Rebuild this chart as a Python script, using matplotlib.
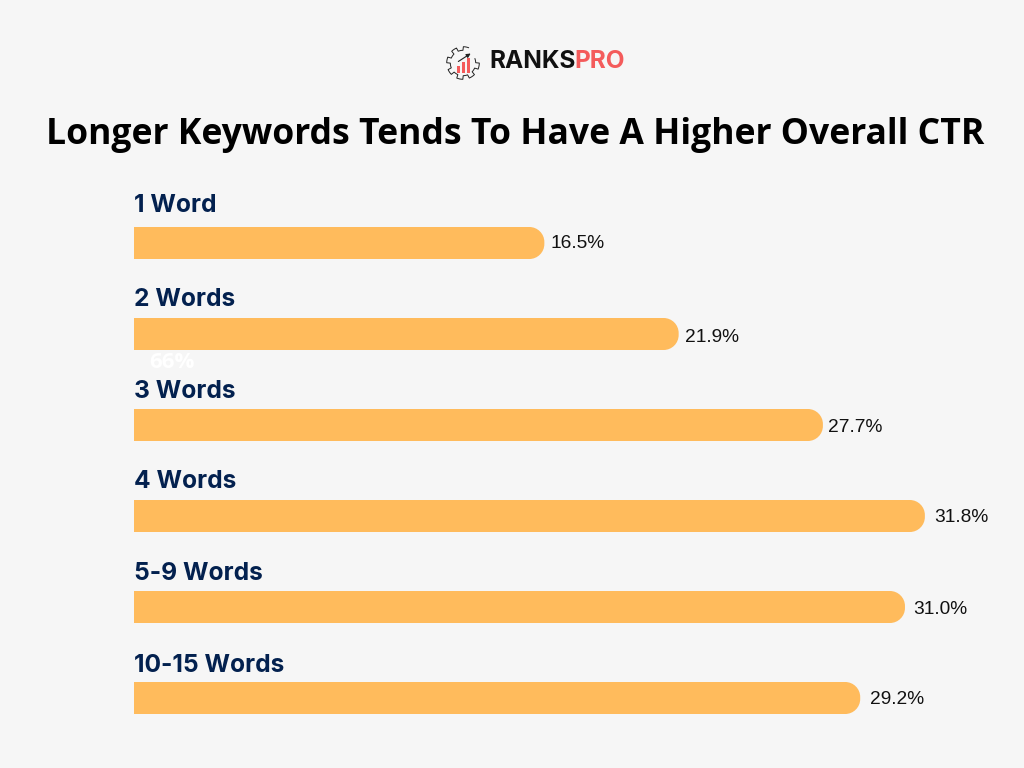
import numpy as np
import matplotlib
matplotlib.use("Agg")
import matplotlib.pyplot as plt
from matplotlib.path import Path
from matplotlib.patches import PathPatch, Rectangle

categories = ["1 Word", "2 Words", "3 Words", "4 Words", "5-9 Words", "10-15 Words"]
values = [16.5, 21.9, 27.7, 31.8, 31.0, 29.2]
value_labels = ["16.5%", "21.9%", "27.7%", "31.8%", "31.0%", "29.2%"]
title = "Longer Keywords Tends To Have A Higher Overall CTR"
stray_label = "66%"

BG = "#f6f6f6"
BAR = "#ffbb5c"
NAVY = "#03214f"
RED = "#f45b5b"
W, H = 1024, 768

fig = plt.figure(figsize=(W / 100, H / 100), dpi=100, facecolor=BG)

# full-figure axes in pixels, for header and logo
page = fig.add_axes([0, 0, 1, 1], zorder=2)
page.set_xlim(0, W)
page.set_ylim(H, 0)
page.axis("off")

# chart axes: 24.87 px per percent, 91 px per row
PX_X = 24.87
PX_Y = 91
x_max = 35
y_top = 243 - PX_Y / 2
ax = fig.add_axes([134 / W, 1 - (y_top + 6 * PX_Y) / H, x_max * PX_X / W, 6 * PX_Y / H], zorder=1)
ax.set_xlim(0, x_max)
ax.set_ylim(5.5, -0.5)
ax.axis("off")


def rounded_bar(y, value, h=32 / PX_Y, r_px=15):
    """Bar with rounded right corners, in data units."""
    rx, ry = r_px / PX_X, r_px / PX_Y
    k = 0.45  # control point pull for a near circular corner
    top, bot = y - h / 2, y + h / 2
    verts = [(0, top), (value - rx, top),
             (value - rx * k, top), (value, top + ry * k), (value, top + ry),
             (value, bot - ry),
             (value, bot - ry * k), (value - rx * k, bot), (value - rx, bot),
             (0, bot), (0, top)]
    codes = [Path.MOVETO, Path.LINETO,
             Path.CURVE4, Path.CURVE4, Path.CURVE4,
             Path.LINETO,
             Path.CURVE4, Path.CURVE4, Path.CURVE4,
             Path.LINETO, Path.CLOSEPOLY]
    return PathPatch(Path(verts, codes), facecolor=BAR, edgecolor="none")


label_gaps = [6, 6, 5, 9, 8, 10]
label_dy = [-1, -3, -3, -2, -3, -2]
cat_dy = [37, 35, 34, 34, 33, 32]
for i, (cat, val, lab) in enumerate(zip(categories, values, value_labels)):
    ax.add_patch(rounded_bar(i, val))
    ax.annotate(lab, xy=(val, i), xytext=(label_gaps[i], label_dy[i]), textcoords="offset pixels",
                va="center", ha="left", fontsize=13.8, color="#111111",
                family="Liberation Sans")
    ax.annotate(cat, xy=(0, i), xytext=(0, cat_dy[i]), textcoords="offset pixels",
                va="center", ha="left", fontsize=17.7, color=NAVY,
                family="Inter", fontweight="bold")

page.text(172, 363, stray_label, color="white", fontsize=16, fontweight="bold",
          family="Open Sans", ha="center", va="center")
page.text(515.5, 135, title, color="black", fontsize=25.6, fontweight="bold",
          family="Open Sans", ha="center", va="center")

# logo wordmark
t = page.text(489, 62, "RANKS", color="#111111", fontsize=17.6, fontweight="bold",
              family="Inter", ha="left", va="center")
fig.canvas.draw()
ext = t.get_window_extent()
page.text(ext.x1 - 1, 62, "PRO", color=RED, fontsize=17.6, fontweight="bold",
          family="Inter", ha="left", va="center")

# logo gear outline, open at upper right where the arrow leaves
angles = np.linspace(np.radians(-20), np.radians(290), 200)
radii = 14.5 + 1.8 * np.sign(np.sin(8 * angles))
page.plot(463 + radii * np.cos(angles), 63 + radii * np.sin(angles),
          color="#222222", lw=0.7)
for bx, bh, bw in [(457, 7, 3), (462, 11, 3), (467, 15, 3)]:
    page.add_patch(Rectangle((bx, 73 - bh), bw, bh, color=RED, lw=0))
page.annotate("", xy=(473, 52), xytext=(456, 63),
              arrowprops=dict(arrowstyle="-|>", color="#222222", lw=0.8, mutation_scale=6))

fig.savefig("out.png", dpi=100, facecolor=BG)
